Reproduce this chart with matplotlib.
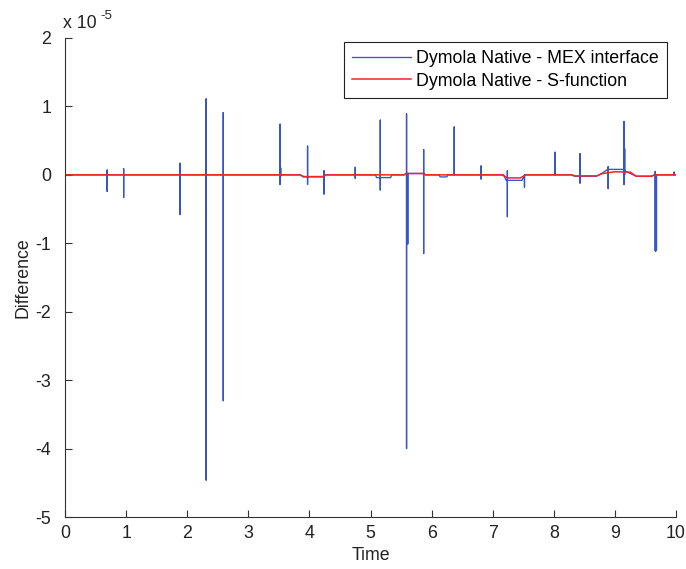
import numpy as np
import matplotlib
matplotlib.use("Agg")
import matplotlib.pyplot as plt

plt.rcParams['font.family'] = ['Liberation Sans', 'DejaVu Sans']

# === Dados (unidade: 1e-5) ===
# linha de base do MEX (azul)
base_mex_t = [0, 3.85, 3.9, 4.22, 4.27, 5.08, 5.1, 5.33, 5.35, 5.55, 5.58, 5.88, 5.9,
              6.12, 6.14, 6.25, 6.27, 7.18, 7.22, 7.48, 7.52, 8.3, 8.33, 8.7, 8.8,
              8.88, 9.13, 9.2, 9.35, 9.6, 9.65, 10]
base_mex_v = [0, 0, -0.03, -0.03, 0, 0, -0.04, -0.04, 0, 0, 0.02, 0.02, 0,
              0, -0.03, -0.03, 0, 0, -0.08, -0.08, 0, 0, -0.02, -0.02, 0.03,
              0.08, 0.08, 0.04, -0.02, -0.02, 0, 0]

# picos do MEX
pico_t = [0.69, 0.96, 1.88, 2.31, 2.59, 3.52, 3.53, 3.97, 4.24, 4.75, 5.16,
          5.59, 5.60, 5.61, 5.87, 6.37, 6.81, 7.24, 7.52, 8.02, 8.43, 8.89,
          9.15, 9.16, 9.66, 9.67, 9.68, 9.97]
pico_max = [0.07, 0.09, 0.17, 1.11, 0.91, 0.74, 0.10, 0.42, 0.06, 0.11, 0.80,
            0.89, 0.02, 0.02, 0.37, 0.70, 0.13, 0.06, -0.03, 0.33, 0.31, 0.12,
            0.78, 0.38, 0.05, 0.0, 0.0, 0.04]
pico_min = [-0.24, -0.33, -0.58, -4.46, -3.30, -0.14, -0.02, -0.14, -0.28, -0.05, -0.22,
            -4.00, -1.01, -1.01, -1.15, 0.0, -0.06, -0.61, -0.18, 0.0, -0.12, -0.20,
            -0.14, 0.0, -1.11, -1.11, -1.10, 0.0]

# S-function (vermelho)
sfun_t = [0, 3.85, 3.9, 4.22, 4.27, 5.55, 5.6, 5.85, 5.9, 7.15, 7.25, 7.45, 7.55,
          8.3, 8.35, 8.7, 8.8, 9.0, 9.25, 9.35, 9.6, 9.65, 10]
sfun_v = [0, 0, -0.025, -0.025, 0, 0, 0.02, 0.02, 0, 0, -0.045, -0.045, 0,
          0, -0.015, -0.015, 0.02, 0.045, 0.04, -0.02, -0.02, 0, 0]

ESCALA = 1e-5

# === Montar serie azul ===
pontos = list(zip(base_mex_t, base_mex_v))
for t, hi, lo in zip(pico_t, pico_max, pico_min):
    b = np.interp(t, base_mex_t, base_mex_v)
    pontos += [(t, b), (t, hi), (t, lo), (t, b)]
pontos.sort(key=lambda p: p[0])
mex_t = np.array([p[0] for p in pontos])
mex_v = np.array([p[1] for p in pontos]) * ESCALA

# === Plotar ===
fig = plt.figure(figsize=(6.86, 5.69), dpi=100)
ax = fig.add_axes([65 / 686, 1 - 517 / 569, 611 / 686, 479 / 569])

ax.plot(mex_t, mex_v, color='#3656c4', lw=0.95, label='Dymola Native - MEX interface')
ax.plot(sfun_t, np.array(sfun_v) * ESCALA, color='#f02525', lw=1.1,
        label='Dymola Native - S-function')

ax.set_xlim(0, 10)
ax.set_ylim(-5e-5, 2e-5)
ax.set_xticks(range(0, 11))
ax.set_yticks(np.arange(-5, 3) * ESCALA)
ax.set_yticklabels([str(v) for v in range(-5, 3)])

for lado in ['top', 'right']:
    ax.spines[lado].set_visible(False)
for lado in ['left', 'bottom']:
    ax.spines[lado].set_linewidth(0.8)
    ax.spines[lado].set_color('#333333')

ax.tick_params(direction='in', length=5, width=0.8, colors='#333333',
               labelsize=12.8, labelcolor='#222222')
ax.tick_params(axis='y', pad=10)
ax.tick_params(axis='x', pad=6)

ax.set_xlabel('Time', fontsize=12.8, color='#222222', labelpad=3)
ax.set_ylabel('Difference', fontsize=12.8, color='#222222', labelpad=3)

fig.text(63 / 686, 1 - 28 / 569, 'x 10', fontsize=12.8, color='#222222', va='baseline')
fig.text(100 / 686, 1 - 19 / 569, '-5', fontsize=9.5, color='#222222', va='baseline')

leg = ax.legend(loc='upper right', bbox_to_anchor=(0.985, 0.991), borderaxespad=0,
                fontsize=12.8, handlelength=3.3, handletextpad=0.3, borderpad=0.45,
                labelspacing=0.3, fancybox=False, framealpha=1, edgecolor='#222222')
leg.get_frame().set_linewidth(0.8)

plt.savefig('out.png', dpi=100)
